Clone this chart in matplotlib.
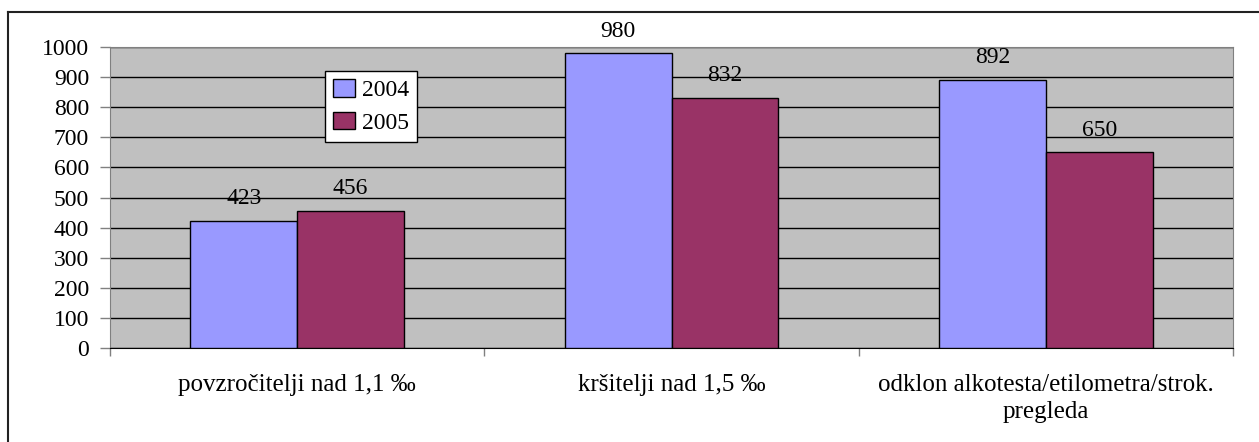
import numpy as np
import matplotlib.pyplot as plt
from matplotlib.lines import Line2D

categories = ["povzročitelji nad 1,1 ‰", "kršitelji nad 1,5 ‰",
              "odklon alkotesta/etilometra/strok.\npregleda"]
years = ["2004", "2005"]
values_2004 = [423, 980, 892]
values_2005 = [456, 832, 650]

plt.rcParams['font.family'] = ['Liberation Serif', 'DejaVu Serif']

fig = plt.figure(figsize=(12.59, 4.42), dpi=100)
ax = fig.add_axes([110/1259, 1-348/442, (1233-110)/1259, (348-47)/442])

x = np.arange(len(categories))
w = 1/3.5
b1 = ax.bar(x - w/2, values_2004, w, color='#9999FF', edgecolor='black', linewidth=1, label=years[0], zorder=3)
b2 = ax.bar(x + w/2, values_2005, w, color='#993366', edgecolor='black', linewidth=1, label=years[1], zorder=3)

for bars in (b1, b2):
    for r in bars:
        ax.text(r.get_x() + r.get_width()/2, r.get_height() + 38, str(int(r.get_height())),
                ha='center', va='bottom', fontsize=17)

ax.set_facecolor('#C0C0C0')
ax.set_xlim(-0.5, 2.5)
ax.set_ylim(0, 1000)
ax.set_yticks(range(0, 1001, 100))
ax.yaxis.grid(True, color='black', linewidth=1, zorder=1)
ax.set_axisbelow(True)
ax.tick_params(axis='y', labelsize=17, length=7, width=1, color='#808080', pad=8)

ax.set_xticks([-0.5, 0.5, 1.5, 2.5])
ax.set_xticklabels([])
ax.set_xticks(x, minor=True)
ax.set_xticklabels(categories, minor=True, fontsize=18, linespacing=1.3)
ax.tick_params(axis='x', which='minor', length=0, pad=19)
ax.tick_params(axis='x', which='major', length=6, width=1, color='#808080')

for s in ['top', 'right']:
    ax.spines[s].set_color('#808080')
ax.spines['left'].set_color('#808080')
ax.spines['bottom'].set_color('black')

leg = ax.legend(loc='upper left', bbox_to_anchor=((325-110)/1123, (348-71)/301),
                fontsize=17, frameon=True, fancybox=False, edgecolor='black',
                framealpha=1, borderpad=0.35, handlelength=0.9, handleheight=0.75,
                handletextpad=0.3, labelspacing=0.45, borderaxespad=0)
leg.get_frame().set_linewidth(1)

# chart frame: only left and top edges fall inside the picture
fx, fy = 7.5/1259, 1-11.5/442
fig.add_artist(Line2D([fx, fx], [0, fy], transform=fig.transFigure, color='#222222', linewidth=1.5))
fig.add_artist(Line2D([fx, 1], [fy, fy], transform=fig.transFigure, color='#222222', linewidth=1.5))

fig.savefig('out.png', dpi=100)
